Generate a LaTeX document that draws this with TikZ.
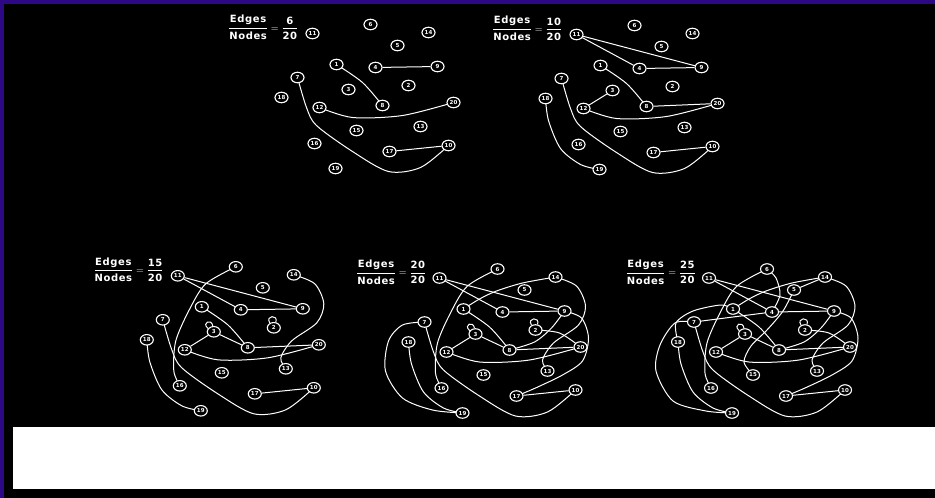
\documentclass[tikz,border=0pt]{standalone}
\usepackage{amsmath}
\usepackage{fontspec}
\usepackage{tikz}
\usetikzlibrary{shapes.geometric}
\newfontfamily\labfont{DejaVu Sans}[LetterSpace=6]
\newfontfamily\numfont{DejaVu Sans}
\definecolor{framepurple}{RGB}{44,8,132}
\pgfdeclarelayer{bg}
\pgfdeclarelayer{edges}
\pgfsetlayers{bg,edges,main}
% the same 20 nodes in every panel, placed relative to node 11
\newcommand{\gnodes}[1]{%
  \foreach \n/\gx/\gy in {6/58/-9, 14/116/-1, 11/0/0, 5/85/12, 1/24/31, 4/63/34,
      9/125/33, 7/-15/44, 3/36/56, 2/96/52, 18/-31/64, 8/70/72, 12/7/74, 20/141/69,
      15/44/97, 13/108/93, 16/2/110, 17/77/118, 10/136/112, 19/23/135}
    \node[gnode] (#1\n) at (\gx,\gy) {\n};}
\newcommand{\edgeratio}[2]{%
  $\genfrac{}{}{1pt}{0}{\text{\labfont\bfseries Edges}}{\text{\labfont\bfseries Nodes}}
   = \genfrac{}{}{1pt}{0}{\text{\labfont\bfseries #1}}{\text{\labfont\bfseries #2}}$}
\tikzset{
  gnode/.style={ellipse, draw=white, line width=1.1pt, fill=black, text=white,
    minimum width=13pt, minimum height=10.5pt, inner sep=0pt,
    font=\numfont\bfseries\fontsize{5.5}{5.5}\selectfont},
  gedge/.style={white, line width=1pt},
  ratiolab/.style={text=white, anchor=east, inner sep=0pt, font=\fontsize{10}{11}\selectfont},
}

\begin{document}
\begin{tikzpicture}[x=1pt, y=-1pt]
\useasboundingbox (0,0) rectangle (935,498);
\begin{pgfonlayer}{bg}
  \fill[black] (0,0) rectangle (935,498);
  \fill[framepurple] (0,0) rectangle (4,498);
  \fill[framepurple] (0,0) rectangle (935,3.5);
  \fill[white] (12.7,426.7) rectangle (935,489.3);
\end{pgfonlayer}
%---- panel A : 6 edges
\begin{scope}[shift={(312.5,33.5)}]
  \gnodes{a}
  \node[ratiolab] (alab) at (-14,-6) {\edgeratio{6}{20}};
  \begin{pgfonlayer}{edges}
    \draw[gedge] plot[smooth] coordinates {(a1.center) (50,49) (a8.center)};
    \draw[gedge] (a4) -- (a9);
    \draw[gedge] plot[smooth] coordinates {(a12.center) (40,84) (90,82) (a20.center)};
    \draw[gedge] plot[smooth] coordinates {(a7.center) (-6,74) (4,92) (40,118) (76,138) (108,134) (a10.center)};
    \draw[gedge] (a17) -- (a10);
  \end{pgfonlayer}
\end{scope}
%---- panel B : 10 edges
\begin{scope}[shift={(576.5,34.5)}]
  \gnodes{b}
  \node[ratiolab] (blab) at (-14,-6) {\edgeratio{10}{20}};
  \begin{pgfonlayer}{edges}
    \draw[gedge] (b11) -- (b4);
    \draw[gedge] (b11) -- (b9);
    \draw[gedge] (b4) -- (b9);
    \draw[gedge] plot[smooth] coordinates {(b1.center) (50,49) (b8.center)};
    \draw[gedge] (b8) -- (b20);
    \draw[gedge] (b12) -- (b3);
    \draw[gedge] plot[smooth] coordinates {(b12.center) (40,84) (90,82) (b20.center)};
    \draw[gedge] plot[smooth] coordinates {(b7.center) (-6,74) (4,92) (40,118) (76,138) (108,134) (b10.center)};
    \draw[gedge] (b17) -- (b10);
    \draw[gedge] plot[smooth] coordinates {(b18.center) (-28,86) (-16,114) (4,130) (b19.center)};
  \end{pgfonlayer}
\end{scope}
%---- panel C : 15 edges
\begin{scope}[shift={(177.8,275.8)}]
  \gnodes{c}
  \node[ratiolab] (clab) at (-14,-6) {\edgeratio{15}{20}};
  \begin{pgfonlayer}{edges}
    \draw[gedge] (c11) -- (c4);
    \draw[gedge] (c11) -- (c9);
    \draw[gedge] (c4) -- (c9);
    \draw[gedge] plot[smooth] coordinates {(c1.center) (50,49) (c8.center)};
    \draw[gedge] (c3) -- (c8);
    \draw[gedge] (c8) -- (c20);
    \draw[gedge] (c12) -- (c3);
    \draw[gedge] plot[smooth] coordinates {(c12.center) (40,84) (90,82) (c20.center)};
    \draw[gedge] plot[smooth] coordinates {(c6.center) (28,8) (12,33) (-2,65) (-4,95) (c16.center)};
    \draw[gedge] plot[smooth] coordinates {(c14.center) (137,8) (146,28) (139,47) (114,65) (103,82) (c13.center)};
    \draw[gedge] plot[smooth] coordinates {(c7.center) (-6,74) (4,92) (40,118) (76,138) (108,134) (c10.center)};
    \draw[gedge] (c17) -- (c10);
    \draw[gedge] plot[smooth] coordinates {(c18.center) (-28,86) (-16,114) (4,130) (c19.center)};
    \draw[gedge] (c3.150) .. controls +(-7,-6) and +(-1,-8) .. (c3.100);
    \draw[gedge] (c2.130) .. controls +(-5,-8) and +(3,-8) .. (c2.70);
  \end{pgfonlayer}
\end{scope}
%---- panel D : 20 edges
\begin{scope}[shift={(439.5,278)}]
  \gnodes{d}
  \node[ratiolab] (dlab) at (-13,-6) {\edgeratio{20}{20}};
  \begin{pgfonlayer}{edges}
    \draw[gedge] (d11) -- (d4);
    \draw[gedge] (d11) -- (d9);
    \draw[gedge] (d4) -- (d9);
    \draw[gedge] plot[smooth] coordinates {(d1.center) (50,49) (d8.center)};
    \draw[gedge] (d3) -- (d8);
    \draw[gedge] (d8) -- (d20);
    \draw[gedge] (d12) -- (d3);
    \draw[gedge] plot[smooth] coordinates {(d12.center) (40,84) (90,82) (d20.center)};
    \draw[gedge] plot[smooth] coordinates {(d6.center) (28,8) (12,33) (-2,65) (-4,95) (d16.center)};
    \draw[gedge] plot[smooth] coordinates {(d14.center) (137,8) (146,28) (139,47) (114,65) (103,82) (d13.center)};
    \draw[gedge] plot[smooth] coordinates {(d1.center) (40,21) (57,13) (83,5) (d14.center)};
    \draw[gedge] plot[smooth] coordinates {(d8.center) (95,64) (112,50) (d9.center)};
    \draw[gedge] plot[smooth] coordinates {(d2.center) (120,55) (d20.center)};
    \draw[gedge] plot[smooth] coordinates {(d9.center) (142,40) (149,60) (143,83) (123,97) (96,110) (d17.center)};
    \draw[gedge] plot[smooth] coordinates {(d7.center) (-37,47) (-51,63) (-54,93) (-37,120) (-7,132) (d19.center)};
    \draw[gedge] plot[smooth] coordinates {(d7.center) (-6,74) (4,92) (40,118) (76,138) (108,134) (d10.center)};
    \draw[gedge] (d17) -- (d10);
    \draw[gedge] plot[smooth] coordinates {(d18.center) (-28,86) (-16,114) (4,130) (d19.center)};
    \draw[gedge] (d3.150) .. controls +(-7,-6) and +(-1,-8) .. (d3.100);
    \draw[gedge] (d2.130) .. controls +(-5,-8) and +(3,-8) .. (d2.70);
  \end{pgfonlayer}
\end{scope}
%---- panel E : 25 edges
\begin{scope}[shift={(709,278)}]
  \gnodes{e}
  \node[ratiolab] (elab) at (-13,-6) {\edgeratio{25}{20}};
  \begin{pgfonlayer}{edges}
    \draw[gedge] (e11) -- (e4);
    \draw[gedge] (e11) -- (e9);
    \draw[gedge] (e4) -- (e9);
    \draw[gedge] plot[smooth] coordinates {(e1.center) (50,49) (e8.center)};
    \draw[gedge] (e3) -- (e8);
    \draw[gedge] (e8) -- (e20);
    \draw[gedge] (e12) -- (e3);
    \draw[gedge] plot[smooth] coordinates {(e12.center) (40,84) (90,82) (e20.center)};
    \draw[gedge] plot[smooth] coordinates {(e6.center) (28,8) (12,33) (-2,65) (-4,95) (e16.center)};
    \draw[gedge] plot[smooth] coordinates {(e14.center) (137,8) (146,28) (139,47) (114,65) (103,82) (e13.center)};
    \draw[gedge] plot[smooth] coordinates {(e1.center) (40,21) (57,13) (83,5) (e14.center)};
    \draw[gedge] plot[smooth] coordinates {(e8.center) (95,64) (112,50) (e9.center)};
    \draw[gedge] plot[smooth] coordinates {(e2.center) (120,55) (e20.center)};
    \draw[gedge] plot[smooth] coordinates {(e9.center) (142,40) (149,60) (143,83) (123,97) (96,110) (e17.center)};
    \draw[gedge] plot[smooth] coordinates {(e7.center) (-34,45) (-49,67) (-53,93) (-36,123) (-3,133) (e19.center)};
    \draw[gedge] plot[smooth] coordinates {(e7.center) (-6,74) (4,92) (40,118) (76,138) (108,134) (e10.center)};
    \draw[gedge] (e17) -- (e10);
    \draw[gedge] plot[smooth] coordinates {(e18.center) (-28,86) (-16,114) (4,130) (e19.center)};
    \draw[gedge] plot[smooth] coordinates {(e6.center) (67,0) (71,17) (e4.center)};
    \draw[gedge] (e5) -- (e14);
    \draw[gedge] plot[smooth] coordinates {(e5.center) (74,33) (58,52) (42,68) (35,84) (e15.center)};
    \draw[gedge] (e7) -- (e4);
    \draw[gedge] plot[smooth] coordinates {(e1.center) (12,27) (-16,33) (-33,45) (e18.center)};
    \draw[gedge] (e3.150) .. controls +(-7,-6) and +(-1,-8) .. (e3.100);
    \draw[gedge] (e2.130) .. controls +(-5,-8) and +(3,-8) .. (e2.70);
  \end{pgfonlayer}
\end{scope}
\end{tikzpicture}
\end{document}
